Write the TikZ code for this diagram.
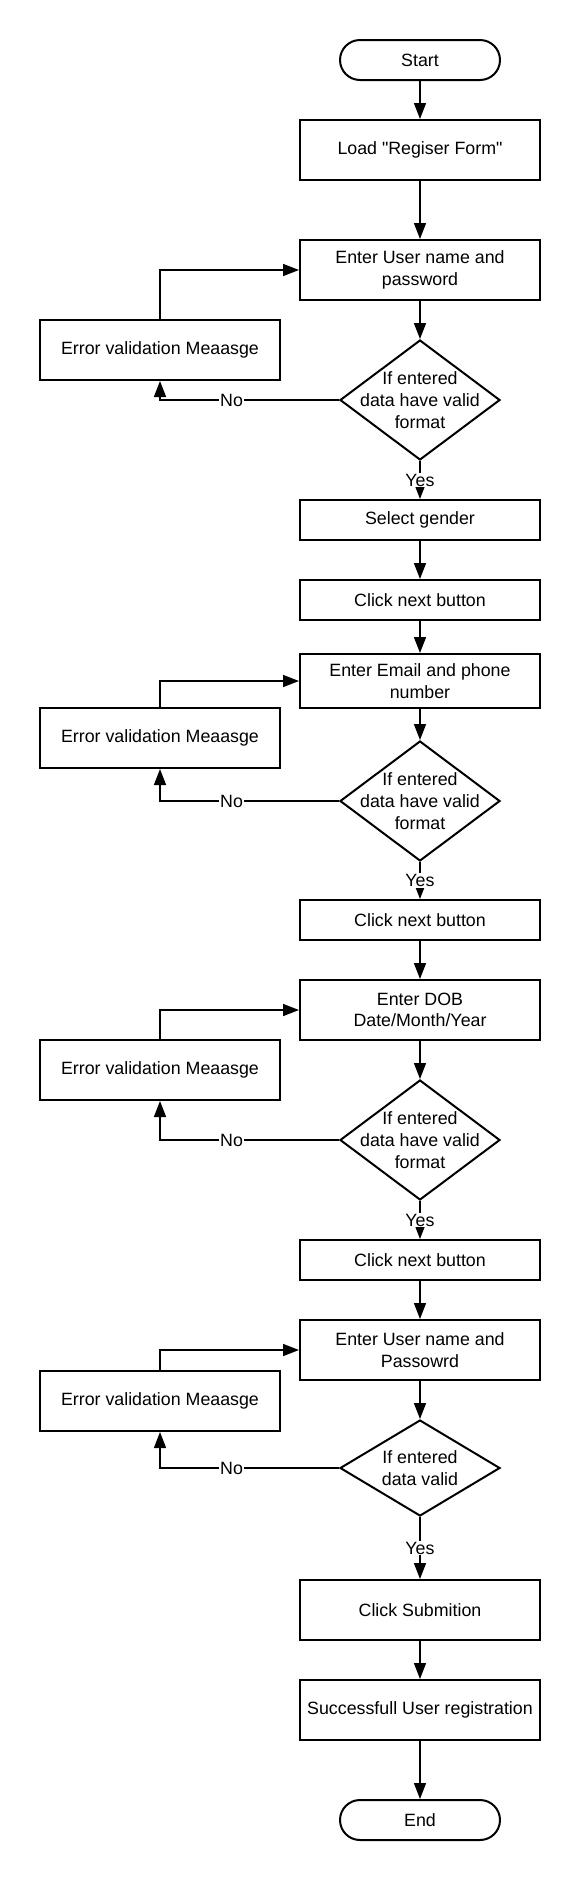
\documentclass[tikz,border=0pt]{standalone}
\usepackage{fontspec}
\setmainfont{Liberation Sans}
\usetikzlibrary{shapes.geometric,arrows.meta}
\tikzset{
	process/.style={draw, line width=2pt, minimum width=240pt, minimum height=60pt, inner sep=2pt, align=center},
	terminal/.style={draw, line width=2pt, rounded corners=20pt, minimum width=160pt, minimum height=40pt, inner sep=2pt},
	decision/.style={draw, diamond, line width=2pt, minimum width=160pt, minimum height=120pt, inner sep=0pt},
	answer/.style={fill=white, inner sep=1pt},
	every path/.style={line width=1.6pt},
	>={Triangle[length=16pt,width=12pt]}
}
\begin{document}
\begin{tikzpicture}[x=1pt, y=-1pt, font=\fontsize{17.8}{21.7}\selectfont]
	\useasboundingbox (0,0) rectangle (580,1880);
		\node[terminal] (start) at (420,60) {Start};
		\node[process] (load) at (420,150) {Load \textquotedbl Regiser Form\textquotedbl};
		\node[process] (user) at (420,270) {Enter User name and\\password};
		\node[process] (err1) at (160,350) {Error validation Meaasge};
		\node[decision, label={[align=center]center:If entered\\data have valid\\format}] (dec1) at (420,400) {};
		\node[process, minimum height=40pt] (gender) at (420,520) {Select gender};
		\node[process, minimum height=40pt] (next1) at (420,600) {Click next button};
		\node[process, minimum height=54pt] (email) at (420,681) {Enter Email and phone\\number};
		\node[process] (err2) at (160,738) {Error validation Meaasge};
		\node[decision, label={[align=center]center:If entered\\data have valid\\format}] (dec2) at (420,801) {};
		\node[process, minimum height=40pt] (next2) at (420,920) {Click next button};
		\node[process] (dob) at (420,1010) {Enter DOB\\Date/Month/Year};
		\node[process] (err3) at (160,1070) {Error validation Meaasge};
		\node[decision, label={[align=center]center:If entered\\data have valid\\format}] (dec3) at (420,1140) {};
		\node[process, minimum height=40pt] (next3) at (420,1260) {Click next button};
		\node[process] (user2) at (420,1350) {Enter User name and\\Passowrd};
		\node[process] (err4) at (160,1401) {Error validation Meaasge};
		\node[decision, minimum height=96pt, label={[align=center]center:If entered\\data valid}] (dec4) at (420,1468) {};
		\node[process] (submit) at (420,1610) {Click Submition};
		\node[process] (done) at (420,1710) {Successfull User registration};
		\node[terminal] (stop) at (420,1820) {End};
		% main flow
		\path[->] (start) edge (load);
		\path[->] (load) edge (user);
		\path[->] (user) edge (dec1);
		\path[->] (dec1) edge node[answer] {Yes} (gender);
		\path[->] (gender) edge (next1);
		\path[->] (next1) edge (email);
		\path[->] (email) edge (dec2);
		\path[->] (dec2) edge node[answer] {Yes} (next2);
		\path[->] (next2) edge (dob);
		\path[->] (dob) edge (dec3);
		\path[->] (dec3) edge node[answer] {Yes} (next3);
		\path[->] (next3) edge (user2);
		\path[->] (user2) edge (dec4);
		\path[->] (dec4) edge node[answer] {Yes} (submit);
		\path[->] (submit) edge (done);
		\path[->] (done) edge (stop);
		% error loops
		\draw[->] (dec1.west) -| node[answer, pos=0.3] {No} (err1.south);
		\draw[->] (err1.north) |- (user.west);
		\draw[->] (dec2.west) -| node[answer, pos=0.3] {No} (err2.south);
		\draw[->] (err2.north) |- (email.west);
		\draw[->] (dec3.west) -| node[answer, pos=0.3] {No} (err3.south);
		\draw[->] (err3.north) |- (dob.west);
		\draw[->] (dec4.west) -| node[answer, pos=0.3] {No} (err4.south);
		\draw[->] (err4.north) |- (user2.west);
\end{tikzpicture}
\end{document}
